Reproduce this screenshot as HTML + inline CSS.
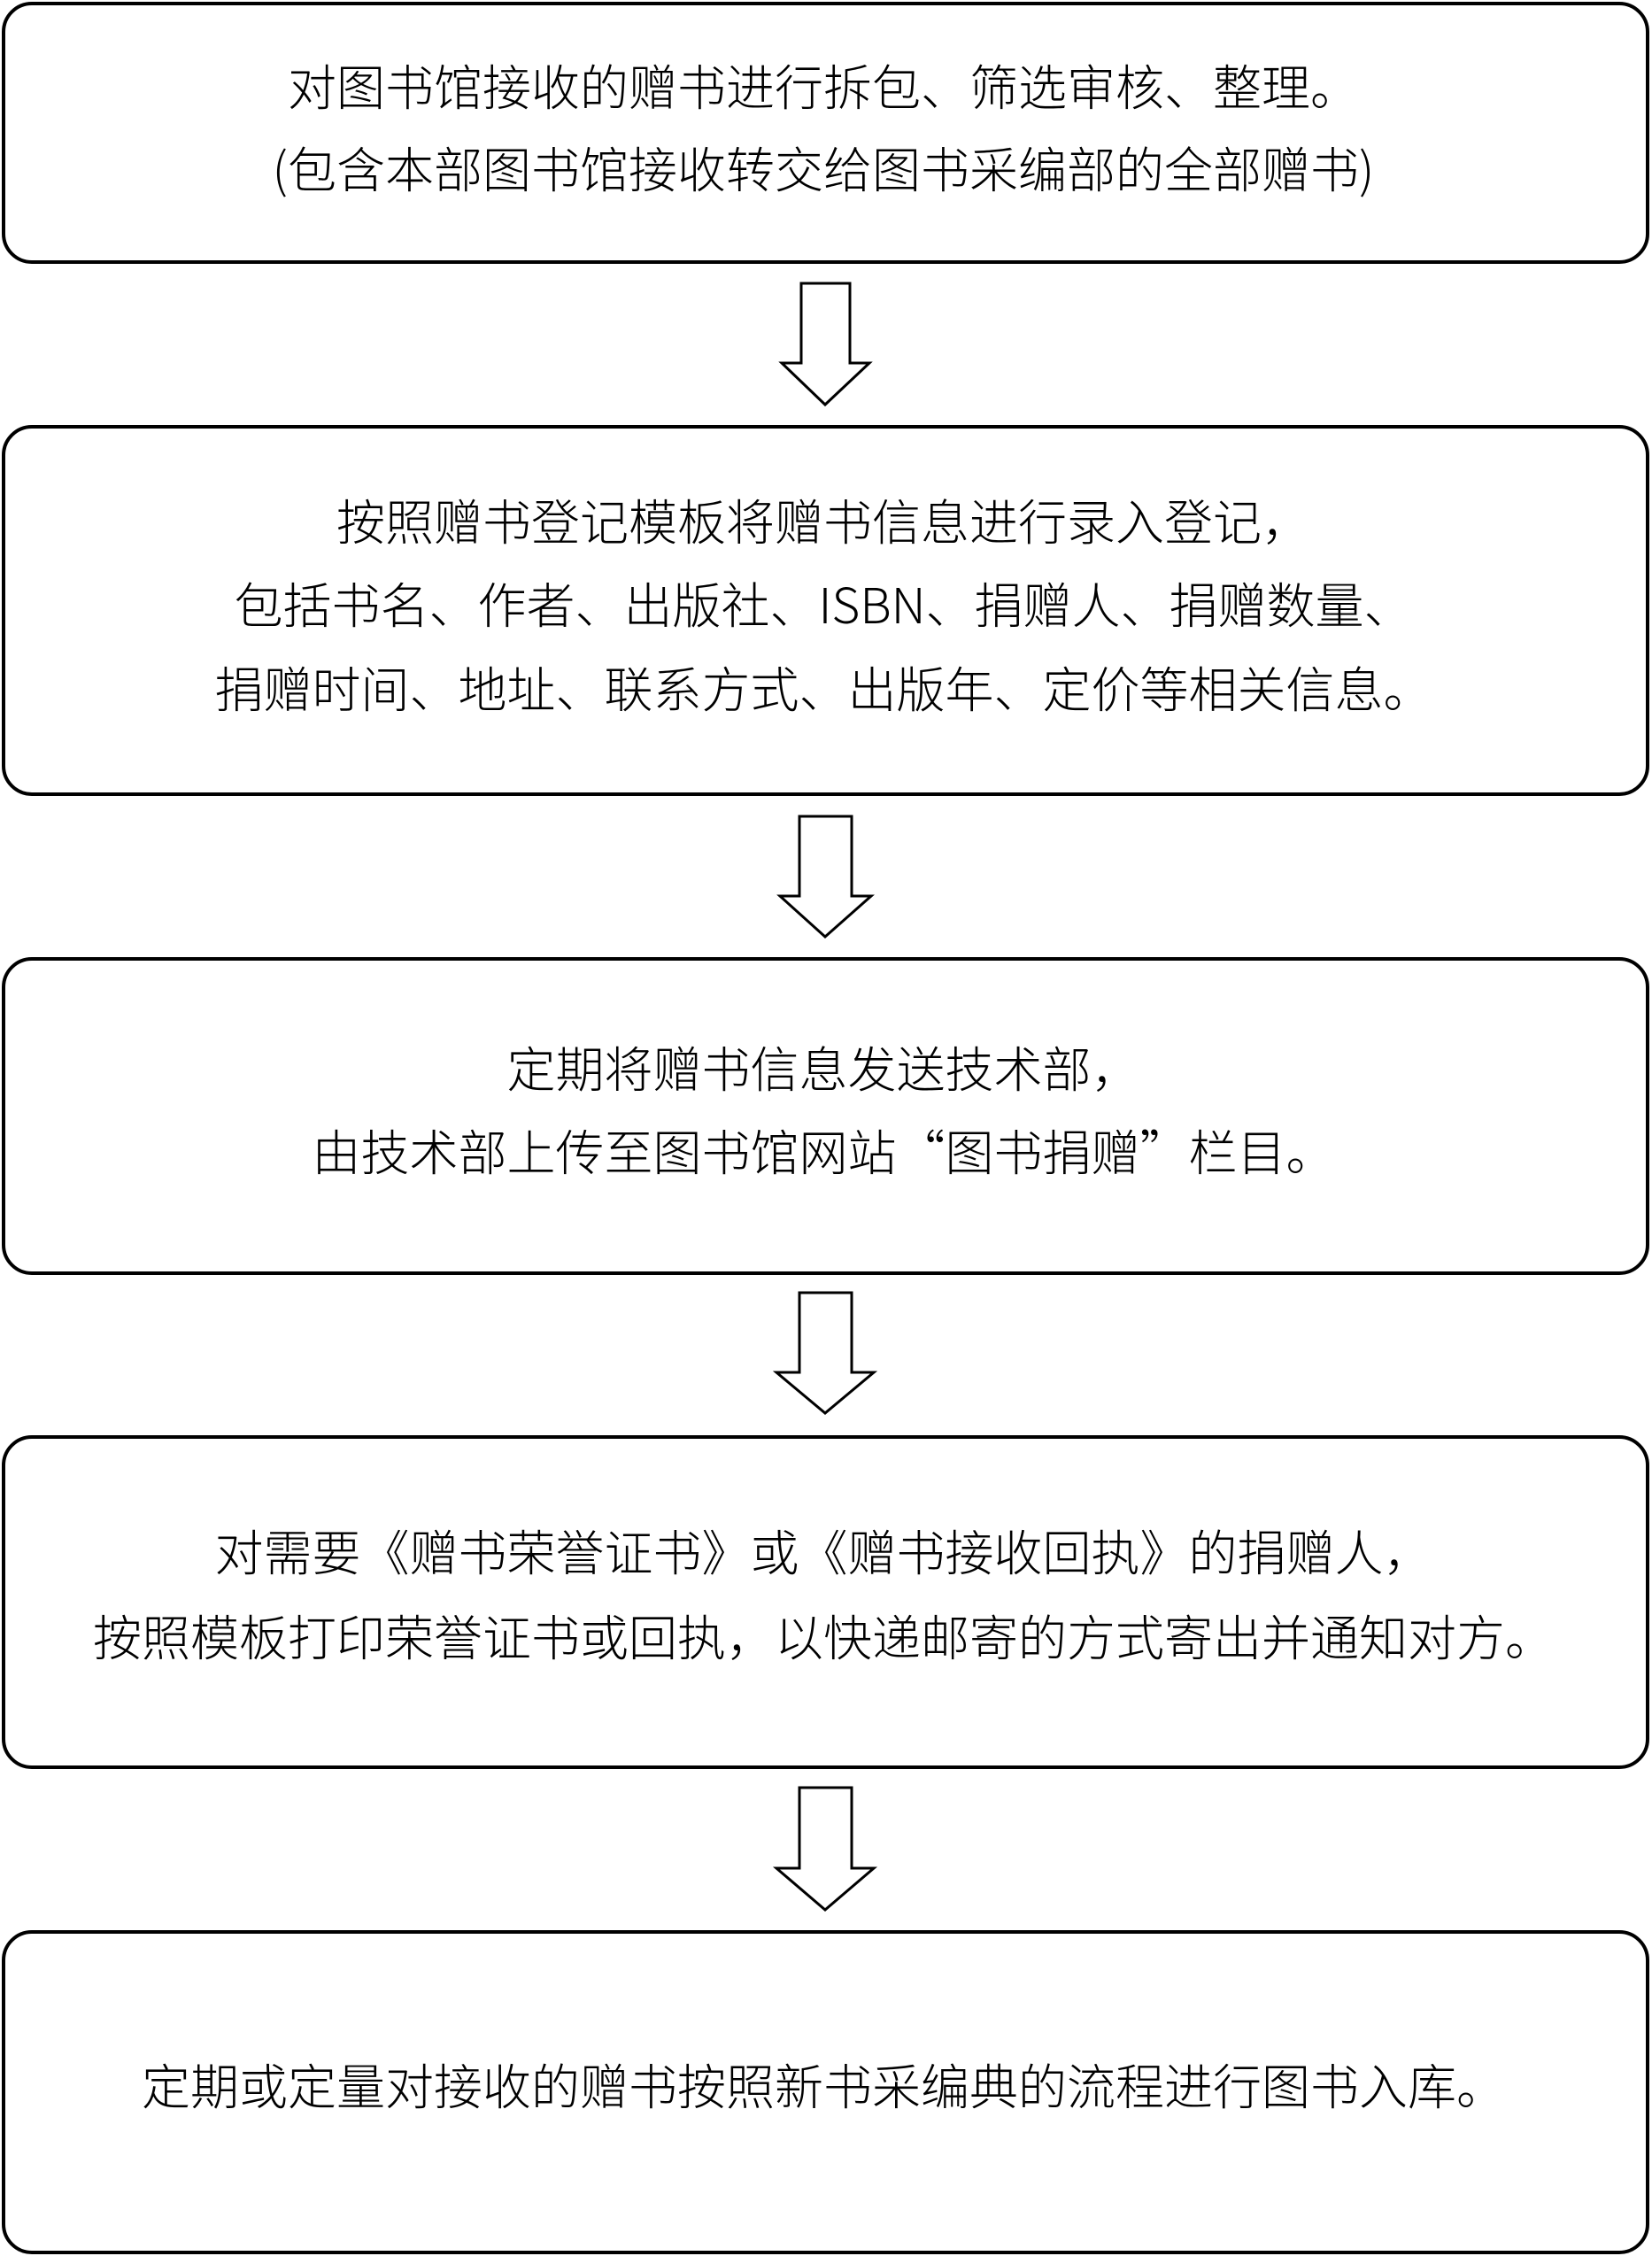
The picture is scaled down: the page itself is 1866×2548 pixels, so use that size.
<!DOCTYPE html>
<html><head><meta charset="utf-8"><style>
html,body{margin:0;padding:0;background:#fff;}
svg{display:block;}
text{font-family:"Noto Sans CJK SC","Liberation Sans",sans-serif;font-size:55px;font-weight:300;fill:#000;text-anchor:middle;dominant-baseline:central;}
</style></head><body>
<svg width="1866" height="2548" viewBox="0 0 1866 2548" xmlns="http://www.w3.org/2000/svg">
<g fill="none" stroke="#000" stroke-width="4">
<rect x="4" y="4" width="1857" height="292" rx="32"/>
<rect x="4" y="482" width="1857" height="415" rx="32"/>
<rect x="4" y="1083" width="1857" height="355" rx="32"/>
<rect x="4" y="1623" width="1857" height="373" rx="32"/>
<rect x="4" y="2182" width="1857" height="362" rx="32"/>
<g stroke-width="3">
<polygon points="905,320 960,320 960,410 982,410 932,457 883,410 905,410"/>
<polygon points="903,922 962,922 962,1012 984,1012 932,1058 881,1012 903,1012"/>
<polygon points="903,1460 962,1460 962,1550 987,1550 932,1596 877,1550 903,1550"/>
<polygon points="903,2019 962,2019 962,2110 987,2110 932,2157 877,2110 903,2110"/>
</g>
</g>
<g transform="translate(0,-7)">
<text x="930" y="102">对图书馆接收的赠书进行拆包、筛选审核、整理。</text>
<text x="930" y="195">(包含本部图书馆接收转交给图书采编部的全部赠书)</text>
<text x="930" y="593">按照赠书登记模板将赠书信息进行录入登记，</text>
<text x="930" y="687">包括书名、作者、出版社、ISBN、捐赠人、捐赠数量、</text>
<text x="930" y="782">捐赠时间、地址、联系方式、出版年、定价等相关信息。</text>
<text x="930" y="1211">定期将赠书信息发送技术部，</text>
<text x="930" y="1305">由技术部上传至图书馆网站“图书捐赠”栏目。</text>
<text x="930" y="1757">对需要《赠书荣誉证书》或《赠书接收回执》的捐赠人，</text>
<text x="930" y="1853">按照模板打印荣誉证书或回执，以快递邮寄的方式寄出并通知对方。</text>
<text x="930" y="2360">定期或定量对接收的赠书按照新书采编典的流程进行图书入库。</text>
</g>
</svg>
</body></html>
